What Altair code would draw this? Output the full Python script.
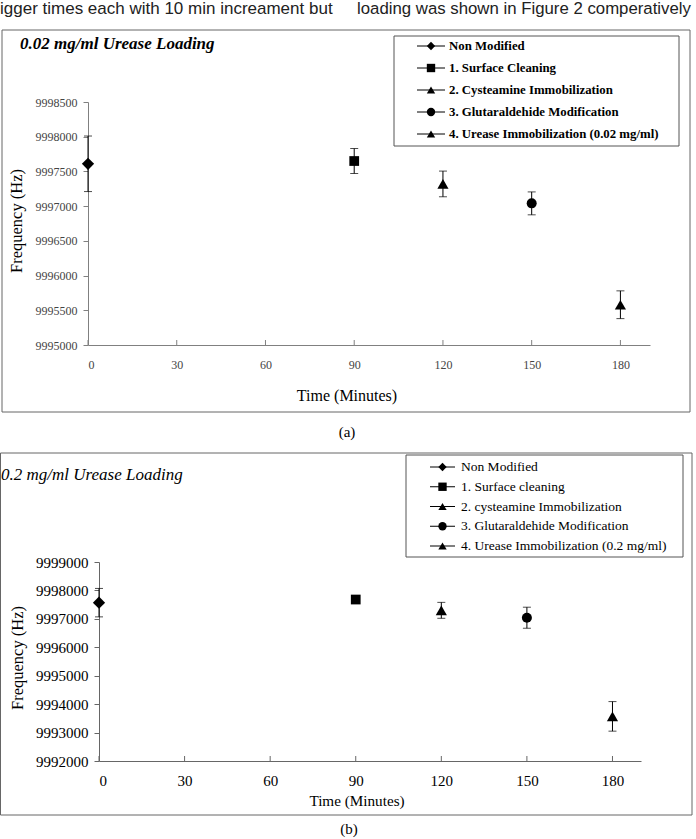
import altair as alt
import pandas as pd

# ---------------- data ----------------
times = [0, 90, 120, 150, 180]
x_ticks = [0, 30, 60, 90, 120, 150, 180]
shapes = ["diamond", "square", "triangle-up", "circle", "triangle-up"]

stages_a = ["Non Modified", "1. Surface Cleaning", "2. Cysteamine Immobilization",
            "3. Glutaraldehide Modification", "4. Urease Immobilization (0.02 mg/ml)"]
freq_a = [9997610, 9997650, 9997320, 9997040, 9995580]
err_a = [400, 180, 185, 165, 200]
y_ticks_a = [9995000, 9995500, 9996000, 9996500, 9997000, 9997500, 9998000, 9998500]

stages_b = ["Non Modified", "1. Surface cleaning", "2. cysteamine Immobilization",
            "3. Glutaraldehide Modification", "4. Urease Immobilization (0.2 mg/ml)"]
freq_b = [9997570, 9997680, 9997300, 9997040, 9993570]
err_b = [500, 60, 280, 370, 520]
y_ticks_b = [9992000, 9993000, 9994000, 9995000, 9996000, 9997000, 9998000, 9999000]

top_left_text = "igger times each with 10 min increament but"
top_right_text = "loading was shown in Figure 2 comperatively"

# ---------------- styles ----------------
SERIF = "Liberation Serif"
SANS = "Liberation Sans"
SIZE = {"diamond": 150, "square": 95, "triangle-up": 125, "circle": 100}


def panel_df(stages, freq, err):
    return pd.DataFrame({
        "t": times,
        "f": freq,
        "lo": [f - e for f, e in zip(freq, err)],
        "hi": [f + e for f, e in zip(freq, err)],
        "stage": stages,
        "shape": shapes,
        "size": [SIZE[s] for s in shapes],
    })


def legend_df(stages):
    return pd.DataFrame({"row": list(range(len(stages))), "label": stages, "shape": shapes})


dummy = alt.Data(values=[{}])


def box(x1, x2, y1, y2, color="#666"):
    return alt.Chart(dummy).mark_rect(fillOpacity=0, stroke=color, strokeWidth=1).encode(
        x=alt.value(x1), x2=alt.value(x2), y=alt.value(y1), y2=alt.value(y2))


def label(txt, x, y, size, font=SERIF, weight="normal", style="normal", align="left",
          angle=0, color="black", baseline="alphabetic"):
    return alt.Chart(dummy).mark_text(
        text=txt, font=font, fontSize=size, fontWeight=weight, fontStyle=style,
        align=align, angle=angle, color=color, baseline=baseline
    ).encode(x=alt.value(x), y=alt.value(y))


def panel(df, xr, yr, ydom, yvals, axis_y, axis_x, lab_size, lab_color, dom_color,
          xlabel_pad):
    xaxis = alt.Axis(orient="bottom", offset=axis_y - 839, values=x_ticks, ticks=False,
                     tickSize=0, labelPadding=xlabel_pad, labelFont=SERIF,
                     labelFontSize=lab_size, labelColor=lab_color, domainColor=dom_color,
                     grid=False, title=None, labelBaseline="top")
    yaxis = alt.Axis(orient="left", offset=-axis_x, values=yvals, format="d", tickSize=5,
                     tickColor=dom_color, labelPadding=6, labelFont=SERIF,
                     labelFontSize=lab_size, labelColor=lab_color, domainColor=dom_color,
                     grid=False, title=None)
    xs = alt.Scale(domain=[0, 190], range=xr, nice=False, zero=False)
    ys = alt.Scale(domain=ydom, range=yr, nice=False, zero=False)

    X = alt.X("t:Q", scale=xs, axis=xaxis)

    def Y(field):
        return alt.Y(field + ":Q", scale=ys, axis=yaxis)

    tick_df = pd.DataFrame({"t": x_ticks})
    inward_ticks = alt.Chart(tick_df).mark_rule(color=dom_color, strokeWidth=1).encode(
        x=X, y=alt.value(axis_y - 5), y2=alt.value(axis_y))
    base = alt.Chart(df)
    bars = base.mark_rule(color="black", strokeWidth=1).encode(x=X, y=Y("lo"), y2=alt.Y2("hi:Q"))
    cap_lo = base.mark_tick(orient="horizontal", size=8, thickness=1, color="black").encode(x=X, y=Y("lo"))
    cap_hi = base.mark_tick(orient="horizontal", size=8, thickness=1, color="black").encode(x=X, y=Y("hi"))
    pts = base.mark_point(filled=True, color="black", opacity=1).encode(
        x=X, y=Y("f"),
        shape=alt.Shape("shape:N", scale=None),
        size=alt.Size("size:Q", scale=None))
    return alt.layer(inward_ticks, bars, cap_lo, cap_hi, pts)


def legend(stages, y0, y1, line_x1, line_x2, text_x, size, weight):
    ldf = legend_df(stages)
    rowY = alt.Y("row:Q", scale=alt.Scale(domain=[0, len(stages) - 1], range=[y0, y1],
                                         nice=False, zero=False),
                 axis=None)
    base = alt.Chart(ldf)
    ln = base.mark_rule(color="black", strokeWidth=1).encode(
        x=alt.value(line_x1), x2=alt.value(line_x2), y=rowY)
    sym = base.mark_point(filled=True, color="black", opacity=1, size=70).encode(
        x=alt.value((line_x1 + line_x2) / 2), y=rowY, shape=alt.Shape("shape:N", scale=None))
    txt = base.mark_text(align="left", baseline="middle", font=SERIF, fontSize=size,
                         fontWeight=weight, color="black").encode(
        x=alt.value(text_x), y=rowY, text="label:N")
    return alt.layer(ln, sym, txt)


df_a = panel_df(stages_a, freq_a, err_a)
df_b = panel_df(stages_b, freq_b, err_b)

panel_a = panel(df_a, [88, 650], [345, 102], [9995000, 9998500], y_ticks_a, 345, 88, 12,
                "#444", "#808080", 14)
panel_b = panel(df_b, [99, 641], [761, 562], [9992000, 9999000], y_ticks_b, 761, 99, 15,
                "black", "#666", 12)

legend_a = legend(stages_a, 46, 134, 417, 445, 449, 12.8, "bold")
legend_b = legend(stages_b, 467, 546, 430, 455, 461, 13.5, "normal")

decor = alt.layer(
    label(top_left_text, 0, 14, 17, font=SANS, color="#222"),
    label(top_right_text, 357, 14, 16.8, font=SANS, color="#222"),
    box(2, 690, 30, 412),
    box(394, 679, 36, 146, "#555"),
    label("0.02 mg/ml Urease Loading", 20, 49, 17, weight="bold", style="italic"),
    label("Frequency (Hz)", 17, 273, 16.5, angle=270, baseline="middle"),
    label("Time (Minutes)", 347, 401, 16, align="center"),
    label("(a)", 347, 437, 15, align="center"),
    box(0.5, 692, 453, 815),
    box(406, 683, 455, 557, "#555"),
    label("0.2 mg/ml Urease Loading", 1, 480, 17, style="italic"),
    label("Frequency (Hz)", 18, 710, 16.5, angle=270, baseline="middle"),
    label("Time (Minutes)", 357, 806, 15.2, align="center"),
    label("(b)", 349, 834, 15, align="center"),
)

chart = alt.layer(decor, panel_a, panel_b, legend_a, legend_b).resolve_scale(
    x="independent", y="independent"
).resolve_axis(
    x="independent", y="independent"
).properties(
    width=696, height=839, padding=0,
    autosize=alt.AutoSizeParams(type="none"),
    background="white",
).configure_view(strokeWidth=0)

chart.save("out.html", embed_options={"renderer": "svg", "actions": False})
